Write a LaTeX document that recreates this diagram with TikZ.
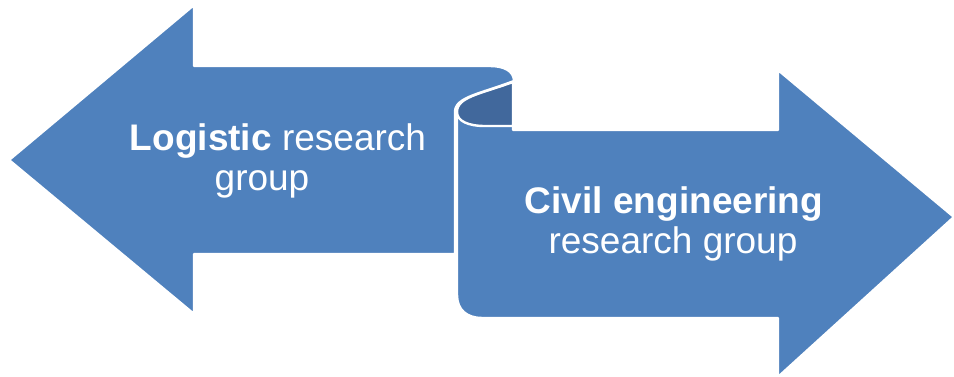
\documentclass[tikz,border=0pt]{standalone}
\usepackage{fontspec}
\setmainfont{Liberation Sans}
\definecolor{arrowblue}{HTML}{4F81BD}
\definecolor{curldark}{HTML}{41689C}
\begin{document}
\begin{tikzpicture}[x=1pt,y=-1pt,
  shapefill/.style={fill=arrowblue,draw=white,line width=2.4pt,line join=round},
  darkfill/.style={fill=curldark,draw=white,line width=2.4pt,line join=round},
  lbl/.style={text=white,inner sep=0pt,font=\fontsize{37}{41}\selectfont,anchor=base}]
\useasboundingbox (0,0) rectangle (954,377);
% right arrow body
\path[shapefill] (457,112) -- (457,295) .. controls (457,310) and (467,318) .. (482,318)
  -- (778,318) -- (778,377) -- (954,217) -- (778,70) -- (778,130) -- (513,130) -- (513,100) -- cycle;
% inside of the curl
\path[darkfill] (457,112) .. controls (457,97) and (480,94) .. (513,82) -- (513,126) -- (485,126)
  .. controls (468,126) and (457,121) .. (457,112) -- cycle;
% left arrow
\path[shapefill] (9,160) -- (194,5) -- (194,66) -- (490,66) .. controls (504,66) and (514,71) .. (514,81)
  .. controls (480,94) and (455,97) .. (455,112) -- (455,254) -- (194,254) -- (194,314) -- cycle;
% texts
\node[lbl] (t1a) at (278,151) {\textbf{Logistic} research};
\node[lbl] (t1b) at (262,191) {group};
\node[lbl] (t2a) at (674,214) {\textbf{Civil engineering}};
\node[lbl] (t2b) at (673,254) {research group};
\end{tikzpicture}
\end{document}
